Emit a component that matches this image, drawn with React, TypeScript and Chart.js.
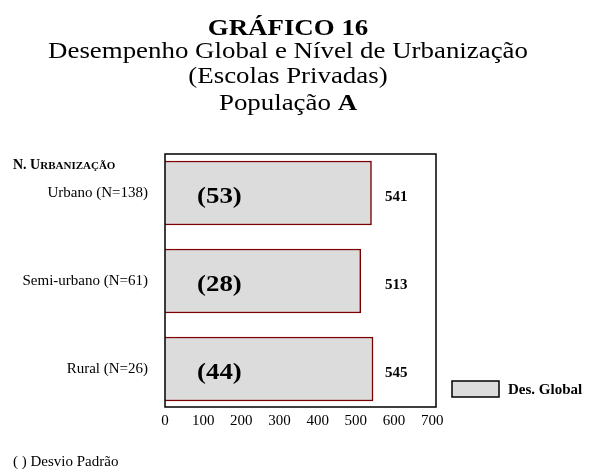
import React, { useEffect, useRef } from "react";
import { Chart, registerables } from "chart.js";

Chart.register(...registerables);

const categories = ["Urbano (N=138)", "Semi-urbano (N=61)", "Rural (N=26)"];
const desGlobal = [541, 513, 545];
const desvioPadrao = [53, 28, 44];
const xTicks = [0, 100, 200, 300, 400, 500, 600, 700];
const seriesName = "Des. Global";
const titleLines = ["GRÁFICO 16", "Desempenho Global e Nível de Urbanização", "(Escolas Privadas)"];
const titleLast = ["População ", "A"];
const axisTitle = ["N. U", "RBANIZAÇÃO"];
const footnote = "( ) Desvio Padrão";

const SERIF = "'Liberation Serif', 'Times New Roman', serif";
const BAR_FILL = "#dcdcdc";
const BAR_BORDER = "#7a0000";

function stretchText(ctx: any, text: string, x: number, y: number, sx: number) {
  ctx.save();
  ctx.translate(x, y);
  ctx.scale(sx, 1);
  ctx.fillText(text, 0, 0);
  ctx.restore();
}

const overlayPlugin = {
  id: "overlay",
  afterDatasetsDraw(chart: any) {
    const { ctx, chartArea } = chart;
    const meta = chart.getDatasetMeta(0);
    ctx.save();
    // plot box
    ctx.strokeStyle = "#000";
    ctx.lineWidth = 1.5;
    ctx.strokeRect(chartArea.left, chartArea.top, chartArea.right - chartArea.left, chartArea.bottom - chartArea.top);

    ctx.fillStyle = "#000";
    ctx.textBaseline = "middle";
    meta.data.forEach((bar: any, i: number) => {
      ctx.font = `bold 24px ${SERIF}`;
      ctx.textAlign = "left";
      stretchText(ctx, `(${desvioPadrao[i]})`, chartArea.left + 32, bar.y + 4, 1.12);
      ctx.font = `bold 15px ${SERIF}`;
      ctx.fillText(String(desGlobal[i]), chartArea.left + 220, bar.y + 4);
    });

    // titles
    const TS = 1.12;
    ctx.textBaseline = "alphabetic";
    ctx.textAlign = "center";
    const cx = 288;
    ctx.font = `bold 24px ${SERIF}`;
    stretchText(ctx, titleLines[0], cx, 35, TS);
    ctx.font = `24px ${SERIF}`;
    stretchText(ctx, titleLines[1], cx, 58, TS);
    stretchText(ctx, titleLines[2], cx, 83, TS);
    ctx.textAlign = "left";
    ctx.font = `24px ${SERIF}`;
    const w1 = ctx.measureText(titleLast[0]).width * TS;
    ctx.font = `bold 24px ${SERIF}`;
    const w2 = ctx.measureText(titleLast[1]).width * TS;
    const sx = cx - (w1 + w2) / 2;
    ctx.font = `24px ${SERIF}`;
    stretchText(ctx, titleLast[0], sx, 110, TS);
    ctx.font = `bold 24px ${SERIF}`;
    stretchText(ctx, titleLast[1], sx + w1, 110, TS);

    // axis title (small caps)
    ctx.font = `bold 14px ${SERIF}`;
    ctx.fillText(axisTitle[0], 13, 169);
    const aw = ctx.measureText(axisTitle[0]).width;
    ctx.font = `bold 11px ${SERIF}`;
    ctx.fillText(axisTitle[1], 13 + aw, 169);

    // legend
    ctx.fillStyle = BAR_FILL;
    ctx.fillRect(452, 381, 47, 16);
    ctx.strokeStyle = "#000";
    ctx.lineWidth = 1.5;
    ctx.strokeRect(452, 381, 47, 16);
    ctx.fillStyle = "#000";
    ctx.font = `bold 15px ${SERIF}`;
    ctx.textBaseline = "middle";
    ctx.fillText(seriesName, 508, 390);

    // footnote
    ctx.textBaseline = "alphabetic";
    ctx.font = `15px ${SERIF}`;
    ctx.fillText(footnote, 13, 466);
    ctx.restore();
  },
};

export default function App() {
  const ref = useRef<HTMLCanvasElement>(null);
  useEffect(() => {
    if (!ref.current) return;
    const chart = new Chart(ref.current, {
      type: "bar",
      data: {
        datasets: [
          {
            label: seriesName,
            data: desGlobal.map((v, i) => ({ x: v, y: i })),
            backgroundColor: BAR_FILL,
            borderColor: BAR_BORDER,
            borderWidth: 1.5,
            barThickness: 64,
          },
        ],
      },
      options: {
        indexAxis: "y",
        animation: false,
        responsive: false,
        maintainAspectRatio: false,
        layout: { padding: { top: 154, right: 153, left: 0, bottom: 0 } },
        plugins: { legend: { display: false }, tooltip: { enabled: false }, title: { display: false } },
        scales: {
          x: {
            type: "linear",
            offset: false,
            min: 0,
            max: 710,
            grid: { display: false, drawTicks: false },
            border: { display: false },
            afterBuildTicks: (s: any) => {
              s.ticks = xTicks.map((v) => ({ value: v }));
            },
            afterFit: (s: any) => {
              s.height = 63;
            },
            ticks: {
              padding: 5,
              color: "#000",
              font: { family: SERIF, size: 15 },
              maxRotation: 0,
              autoSkip: false,
            },
          },
          y: {
            type: "linear",
            offset: false,
            reverse: true,
            min: -0.443,
            max: 2.432,
            grid: { display: false, drawTicks: false },
            border: { display: false },
            afterBuildTicks: (s: any) => {
              s.ticks = categories.map((_, i) => ({ value: i }));
            },
            afterFit: (s: any) => {
              s.width = 165;
            },
            ticks: {
              padding: 17,
              color: "#000",
              font: { family: SERIF, size: 15 },
              autoSkip: false,
              callback: (v: any) => categories[Math.round(Number(v))] ?? "",
            },
          },
        },
      },
      plugins: [overlayPlugin],
    });
    return () => chart.destroy();
  }, []);
  return (
    <div style={{ position: "fixed", left: 0, top: 0, width: 589, height: 470, background: "#fff" }}>
      <canvas ref={ref} width={589} height={470} style={{ width: 589, height: 470, display: "block" }} />
    </div>
  );
}
